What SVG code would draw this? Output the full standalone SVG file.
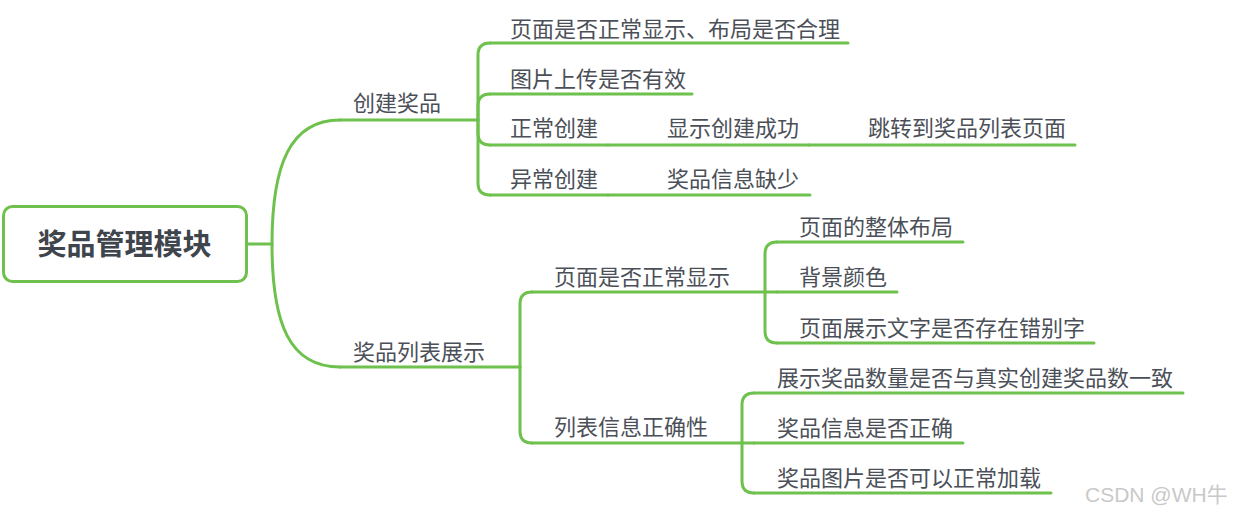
<svg xmlns="http://www.w3.org/2000/svg" width="1235" height="513" viewBox="0 0 1235 513">
<style>
.ln{stroke:#6dc14c;stroke-width:3;fill:none;stroke-linecap:round}
.t{font-family:"Noto Sans CJK SC","Microsoft YaHei",sans-serif;font-size:22px;fill:#4b5058}
.root{font-family:"Noto Sans CJK SC",sans-serif;font-size:29px;font-weight:bold;fill:#3f454c}
.wm{font-family:"Liberation Sans","Noto Sans CJK SC",sans-serif;font-size:21px;fill:#c9c9c9}
</style>
<rect width="1235" height="513" fill="#ffffff"/>
<g id="connectors">
<path class="ln" d="M247,244 H272 C272,165 290,120 340,120"/>
<path class="ln" d="M272,244 C272,325 290,367 340,367"/>
<path class="ln" d="M478,120 V55 Q478,43 490,43"/>
<path class="ln" d="M478,120 V106 Q478,94 490,94"/>
<path class="ln" d="M478,120 V133 Q478,145 490,145"/>
<path class="ln" d="M478,120 V183 Q478,195 490,195"/>
<path class="ln" d="M520,367 V304 Q520,292 532,292"/>
<path class="ln" d="M520,367 V431 Q520,443 532,443"/>
<path class="ln" d="M765,292 V254 Q765,242 777,242"/>
<path class="ln" d="M765,292 H777"/>
<path class="ln" d="M765,292 V331 Q765,343 777,343"/>
<path class="ln" d="M742,443 V405 Q742,393 754,393"/>
<path class="ln" d="M742,443 H754"/>
<path class="ln" d="M742,443 V481 Q742,493 754,493"/>
</g>
<g id="root">
<rect x="3.5" y="206.5" width="243" height="75" rx="9" fill="#ffffff" stroke="#6dc14c" stroke-width="3"/>
<text class="root" x="124.5" y="255" text-anchor="middle">奖品管理模块</text>
</g>
<g id="n-create">
<line class="ln" x1="340" y1="120" x2="478" y2="120"/>
<text class="t" x="353" y="111">创建奖品</text>
</g>
<g id="n-create-page">
<line class="ln" x1="490" y1="43" x2="848" y2="43"/>
<text class="t" x="510" y="37">页面是否正常显示、布局是否合理</text>
</g>
<g id="n-create-img">
<line class="ln" x1="490" y1="94" x2="692" y2="94"/>
<text class="t" x="510" y="87">图片上传是否有效</text>
</g>
<g id="n-create-normal">
<line class="ln" x1="490" y1="145" x2="608" y2="145"/>
<text class="t" x="510" y="136">正常创建</text>
</g>
<g id="n-create-success">
<line class="ln" x1="608" y1="145" x2="809" y2="145"/>
<text class="t" x="667" y="136">显示创建成功</text>
</g>
<g id="n-create-jump">
<line class="ln" x1="809" y1="145" x2="1075" y2="145"/>
<text class="t" x="868" y="136">跳转到奖品列表页面</text>
</g>
<g id="n-create-abnormal">
<line class="ln" x1="490" y1="195" x2="608" y2="195"/>
<text class="t" x="510" y="187">异常创建</text>
</g>
<g id="n-create-missing">
<line class="ln" x1="608" y1="195" x2="810" y2="195"/>
<text class="t" x="667" y="187">奖品信息缺少</text>
</g>
<g id="n-list">
<line class="ln" x1="340" y1="367" x2="520" y2="367"/>
<text class="t" x="353" y="360">奖品列表展示</text>
</g>
<g id="n-list-page">
<line class="ln" x1="532" y1="292" x2="765" y2="292"/>
<text class="t" x="554" y="285">页面是否正常显示</text>
</g>
<g id="n-list-layout">
<line class="ln" x1="777" y1="242" x2="963" y2="242"/>
<text class="t" x="799" y="235">页面的整体布局</text>
</g>
<g id="n-list-bg">
<line class="ln" x1="777" y1="292" x2="897" y2="292"/>
<text class="t" x="799" y="285">背景颜色</text>
</g>
<g id="n-list-typo">
<line class="ln" x1="777" y1="343" x2="1094" y2="343"/>
<text class="t" x="799" y="336">页面展示文字是否存在错别字</text>
</g>
<g id="n-list-info">
<line class="ln" x1="532" y1="443" x2="742" y2="443"/>
<text class="t" x="554" y="435">列表信息正确性</text>
</g>
<g id="n-list-count">
<line class="ln" x1="754" y1="393" x2="1183" y2="393"/>
<text class="t" x="777" y="386">展示奖品数量是否与真实创建奖品数一致</text>
</g>
<g id="n-list-correct">
<line class="ln" x1="754" y1="443" x2="963" y2="443"/>
<text class="t" x="777" y="436">奖品信息是否正确</text>
</g>
<g id="n-list-imgload">
<line class="ln" x1="754" y1="493" x2="1051" y2="493"/>
<text class="t" x="777" y="486">奖品图片是否可以正常加载</text>
</g>
<text class="wm" x="1085" y="502">CSDN @WH牛</text>
</svg>
